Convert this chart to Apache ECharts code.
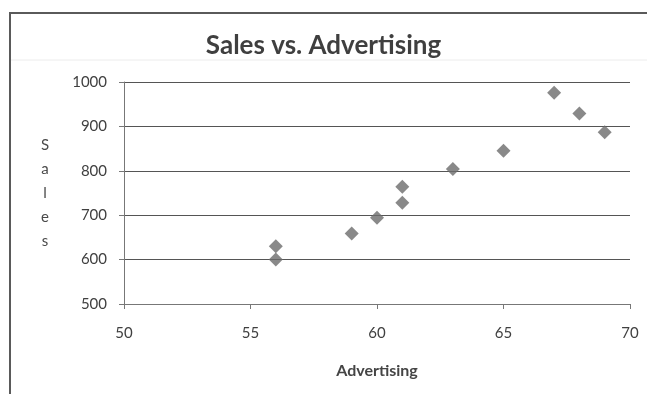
<!DOCTYPE html>
<html>
<head>
<meta charset="utf-8">
<script src="https://cdn.jsdelivr.net/npm/echarts@6/dist/echarts.min.js"></script>
<style>html,body{margin:0;padding:0;background:#fff}#c{width:647px;height:394px}</style>
</head>
<body>
<div id="c"></div>
<script>
const titleText = "Sales vs. Advertising";
const xName = "Advertising";
const yName = "Sales";
const advertising = [56, 56, 59, 60, 61, 61, 63, 65, 67, 68, 69];
const sales = [630, 600, 659, 694, 764, 728, 804, 845, 976, 929, 887];

const chart = echarts.init(document.getElementById('c'), null, {renderer: 'canvas'});
const font = "Lato, 'Open Sans', sans-serif";
chart.setOption({
  backgroundColor: '#fff',
  animation: false,
  title: {
    text: titleText, left: 'center', top: 28,
    textStyle: {fontFamily: font, fontSize: 26, fontWeight: 'bold', color: '#3f3f3f'}
  },
  graphic: [{
    type: 'line', shape: {x1: 10, y1: 13, x2: 647, y2: 13},
    style: {stroke: '#5a5a5a', lineWidth: 2}, z: 10
  }, {
    type: 'line', shape: {x1: 10, y1: 12, x2: 10, y2: 394},
    style: {stroke: '#5a5a5a', lineWidth: 2}, z: 10
  }, {
    type: 'line', shape: {x1: 11, y1: 60, x2: 647, y2: 60},
    style: {stroke: '#ececec', lineWidth: 1}, z: 1
  }],
  grid: {left: 124, right: 17, top: 82, bottom: 90},
  xAxis: {
    type: 'value', min: 50, max: 70, interval: 5,
    name: xName, nameLocation: 'middle', nameGap: 59,
    nameTextStyle: {fontFamily: font, fontSize: 16, fontWeight: 'bold', color: '#454545'},
    axisLine: {show: true, onZero: false, lineStyle: {color: '#777', width: 1}},
    axisTick: {show: true, length: 5, lineStyle: {color: '#777'}},
    axisLabel: {fontFamily: font, fontSize: 15, color: '#404040', margin: 22},
    splitLine: {show: false}
  },
  yAxis: {
    type: 'value', min: 500, max: 1000, interval: 100,
    name: yName.split('').join('\n'), nameLocation: 'middle', nameRotate: 0, nameGap: 79,
    nameTextStyle: {fontFamily: font, fontSize: 15, color: '#4a4a4a', lineHeight: 24, align: 'center'},
    axisLine: {show: true, lineStyle: {color: '#777', width: 1}},
    axisTick: {show: true, length: 5, lineStyle: {color: '#777'}},
    axisLabel: {fontFamily: font, fontSize: 15, color: '#404040', margin: 17, formatter: v => String(v)},
    splitLine: {show: true, lineStyle: {color: '#555', width: 1}}
  },
  series: [{
    type: 'scatter',
    data: advertising.map((x, i) => [x, sales[i]]),
    symbol: 'diamond', symbolSize: [14, 14],
    itemStyle: {color: '#6b6b6b'}
  }]
});
</script>
</body>
</html>
